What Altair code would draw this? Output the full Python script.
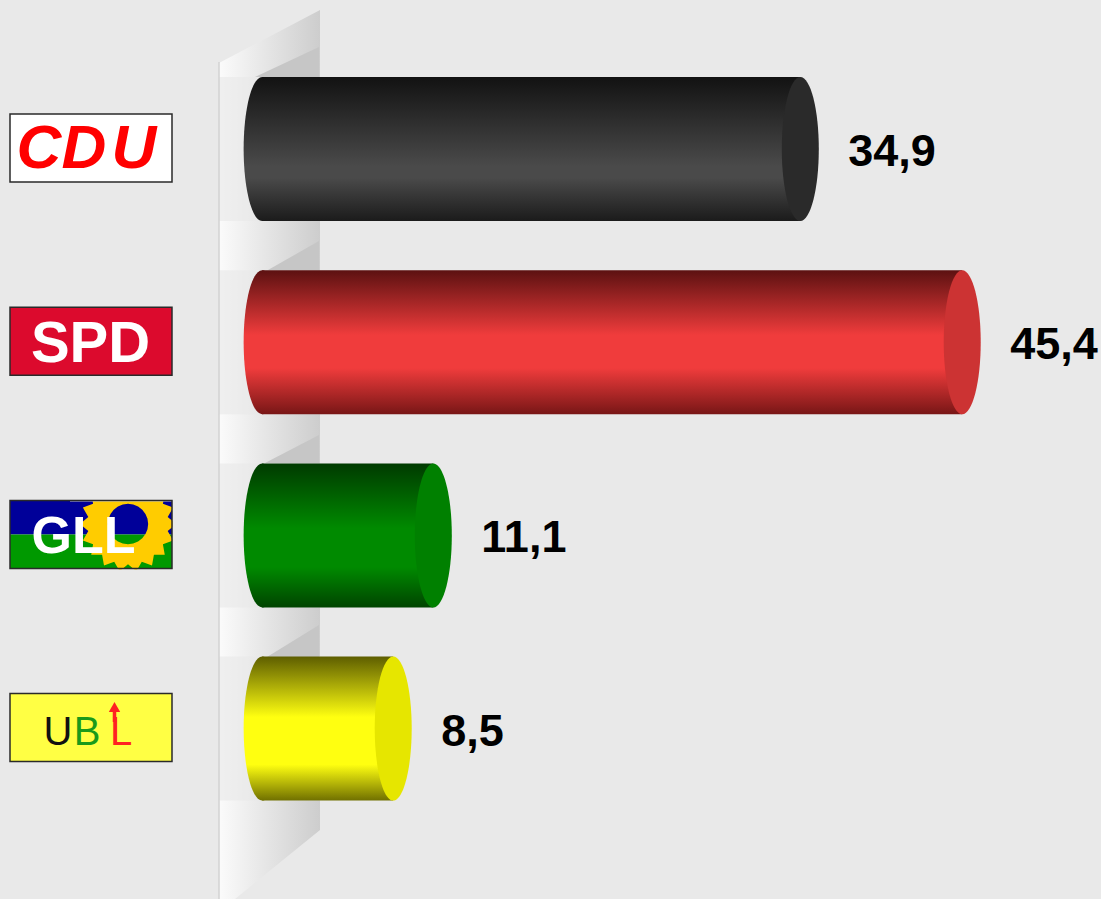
import math
import altair as alt
import pandas as pd

# ---------------- data ----------------
parties = ["CDU", "SPD", "GLL", "UBL"]
values = [34.9, 45.4, 11.1, 8.5]
shade_top = ["#121212", "#5c1111", "#003a00", "#5e5e00"]
shade_mid = ["#4a4a4a", "#f03c3c", "#008a00", "#ffff10"]
shade_bot = ["#1b1b1b", "#781616", "#004400", "#707000"]
cap_colors = ["#2a2a2a", "#cc3333", "#008000", "#e6e600"]
logo_fill = ["#ffffff", "#dc0a2d", "#000099", "#ffff44"]
labels = [f"{v:.1f}".replace(".", ",") for v in values]

BG = "#e9e9e9"
W, H = 1101, 899
X_MIN, X_MAX = -17.0, 54.4
PXU = W / (X_MAX - X_MIN)
ROW = 193.2
Y_MIN = -149.0 / ROW
Y_MAX = Y_MIN + H / ROW
HALF = 72.0 / ROW


def xv(px):
    return X_MIN + px / PXU


def yv(py):
    return Y_MIN + py / ROW


xs = alt.Scale(domain=[X_MIN, X_MAX], nice=False, zero=False)
ys = alt.Scale(domain=[Y_MIN, Y_MAX], nice=False, zero=False, reverse=True)


def X(f):
    return alt.X(f, type="quantitative", scale=xs, axis=None)


def Y(f):
    return alt.Y(f, type="quantitative", scale=ys, axis=None)


def vgrad(t, m, b, s0, s1):
    return alt.LinearGradient(
        gradient="linear",
        stops=[alt.GradientStop(color=t, offset=0),
               alt.GradientStop(color=m, offset=s0),
               alt.GradientStop(color=m, offset=s1),
               alt.GradientStop(color=b, offset=1)],
        x1=0, x2=0, y1=0, y2=1)


plateau = [(0.62, 0.70), (0.45, 0.68), (0.45, 0.72), (0.42, 0.75)]

# ellipse symbol (unit half-height 1)
a, k = 0.257, 0.5523
ka = k * a
ELL = (f"M 0 -1 C {ka:.4f} -1 {a} {-k} {a} 0 C {a} {k} {ka:.4f} 1 0 1 "
       f"C {-ka:.4f} 1 {-a} {k} {-a} 0 C {-a} {-k} {-ka:.4f} -1 0 -1 Z")
ELL_SIZE = (2 * 72) ** 2

layers = []
one = pd.DataFrame({"a": [0]})

# ---------------- wall ----------------
wall_df = pd.DataFrame({"x": [xv(219), xv(320)],
                        "top": [yv(63), yv(10)],
                        "bot": [yv(912), yv(830)]})
hgrad = alt.LinearGradient(
    gradient="linear",
    stops=[alt.GradientStop(color="#fbfbfb", offset=0),
           alt.GradientStop(color="#cdcdcd", offset=1)],
    x1=0, x2=1, y1=0, y2=0)
layers.append(alt.Chart(wall_df).mark_area(fill=hgrad, orient="vertical").encode(
    x=X("x"), y=Y("top"), y2="bot"))

rows_df = pd.DataFrame({"party": parties,
                        "y1": [i - HALF for i in range(len(parties))],
                        "y2": [i + HALF for i in range(len(parties))]})
layers.append(alt.Chart(rows_df).mark_rect(fill=BG, opacity=0.62, strokeWidth=0).encode(
    x=alt.value(218), x2=alt.value(322), y=Y("y1"), y2="y2"))

gaps = [(77, 255, 47), (270, 268, 241), (463, 265, 435), (657, 267, 625)]
tri = []
for gi, (gb, xl, yt) in enumerate(gaps):
    tri.append({"g": gi, "x": xv(xl), "y": yv(gb), "y2": yv(gb)})
    tri.append({"g": gi, "x": xv(319), "y": yv(yt), "y2": yv(gb)})
layers.append(alt.Chart(pd.DataFrame(tri)).mark_area(fill="#c6c6c6", orient="vertical").encode(
    x=X("x"), y=Y("y"), y2="y2", detail="g:N"))

layers.append(alt.Chart(one).mark_rule(color="#d2d2d2", strokeWidth=1.5).encode(
    x=alt.value(219), y=alt.value(62), y2=alt.value(899)))

# ---------------- bars ----------------
for i, (p, v) in enumerate(zip(parties, values)):
    df_i = pd.DataFrame({"party": [p], "value": [v], "zero": [0.0], "pos": [i],
                         "y1": [i - HALF], "y2": [i + HALF]})
    g = vgrad(shade_top[i], shade_mid[i], shade_bot[i], *plateau[i])
    layers.append(alt.Chart(df_i).mark_point(shape=ELL, size=ELL_SIZE, filled=True, fill=g,
                                             opacity=1, strokeWidth=0).encode(
        x=X("zero"), y=Y("pos")))
    layers.append(alt.Chart(df_i).mark_rect(fill=g, strokeWidth=0).encode(
        x=X("zero"), x2="value", y=Y("y1"), y2="y2"))
    layers.append(alt.Chart(df_i).mark_point(shape=ELL, size=ELL_SIZE, filled=True,
                                             fill=cap_colors[i], opacity=1, strokeWidth=0).encode(
        x=X("value"), y=Y("pos")))

lab_df = pd.DataFrame({"party": parties, "value": values, "label": labels,
                       "pos": list(range(len(parties)))})
layers.append(alt.Chart(lab_df).mark_text(align="left", baseline="middle", dx=48, dy=3,
                                          fontSize=45, fontWeight="bold",
                                          font="Liberation Sans", color="#000000").encode(
    x=X("value"), y=Y("pos"), text="label:N"))

# ---------------- logos ----------------
LH = 34.0 / ROW
logo_df = pd.DataFrame({"party": parties, "fill": logo_fill,
                        "pos": list(range(len(parties)))})
logo_df["c"] = logo_df["pos"] - 1.0 / ROW
logo_df["t"] = logo_df["c"] - LH
logo_df["b"] = logo_df["c"] + LH
logo_df["m"] = logo_df["c"]

simple = logo_df[logo_df["party"] != "GLL"]
layers.append(alt.Chart(simple).mark_rect(strokeWidth=0).encode(
    x=alt.value(10), x2=alt.value(172), y=Y("t"), y2="b",
    fill=alt.Fill("fill:N", scale=None)))

gll = logo_df[logo_df["party"] == "GLL"]
layers.append(alt.Chart(gll).mark_rect(fill="#000099", strokeWidth=0).encode(
    x=alt.value(10), x2=alt.value(172), y=Y("t"), y2="m"))
layers.append(alt.Chart(gll).mark_rect(fill="#009900", strokeWidth=0).encode(
    x=alt.value(10), x2=alt.value(172), y=Y("m"), y2="b"))

# sunflower ring (decoration)
pts = []
n = 18
for j in range(2 * n):
    ang = math.pi * j / n
    r = 1.0 if j % 2 == 0 else 0.84
    pts.append((r * math.cos(ang), r * math.sin(ang)))
ring = "M " + " L ".join(f"{x:.3f} {y:.3f}" for x, y in pts) + " Z "
inner = []
for j in range(24):
    ang = -2 * math.pi * j / 24
    inner.append((0.42 * math.cos(ang), 0.42 * math.sin(ang)))
ring += "M " + " L ".join(f"{x:.3f} {y:.3f}" for x, y in inner) + " Z"
layers.append(alt.Chart(one).mark_point(shape=ring, size=(2 * 48) ** 2, filled=True,
                                        fill="#ffcc00", opacity=1, strokeWidth=0).encode(
    x=alt.value(128), y=alt.value(524)))

# letters
def letter(df, txt, px, color, size, dy, weight="bold", style="normal"):
    return alt.Chart(df).mark_text(text=txt, align="center", baseline="middle",
                                   fontSize=size, fontWeight=weight, fontStyle=style,
                                   font="Liberation Sans", color=color, dy=dy).encode(
        x=alt.value(px), y=Y("c"))

cdu = logo_df[logo_df["party"] == "CDU"]
spd = logo_df[logo_df["party"] == "SPD"]
ubl = logo_df[logo_df["party"] == "UBL"]
for ch, px in zip(parties[0], [39, 84, 134]):
    layers.append(letter(cdu, ch, px, "#ff0000", 62, 1, style="italic"))
layers.append(letter(spd, parties[1], 90.5, "#ffffff", 58, 3.5))
layers.append(letter(gll, parties[2], 83.5, "#ffffff", 52, 3))
for ch, px, col in zip(parties[3], [58, 87, 121], ["#111111", "#1a9a1a", "#ff2222"]):
    layers.append(letter(ubl, ch, px, col, 40, 5.5, weight="normal"))
layers.append(alt.Chart(one).mark_rule(color="#ff2222", strokeWidth=3.5).encode(
    x=alt.value(114.5), y=alt.value(710), y2=alt.value(722)))
layers.append(alt.Chart(one).mark_point(shape="triangle-up", size=130, filled=True,
                                        fill="#ff2222", opacity=1, strokeWidth=0).encode(
    x=alt.value(114.5), y=alt.value(707)))

# masks around GLL logo (clip sunflower)
layers.append(alt.Chart(one).mark_rect(fill=BG, strokeWidth=0).encode(
    x=alt.value(70), x2=alt.value(195), y=alt.value(460), y2=alt.value(501.5)))
layers.append(alt.Chart(one).mark_rect(fill=BG, strokeWidth=0).encode(
    x=alt.value(172.5), x2=alt.value(195), y=alt.value(460), y2=alt.value(590)))
layers.append(alt.Chart(one).mark_rect(fill=BG, strokeWidth=0).encode(
    x=alt.value(70), x2=alt.value(195), y=alt.value(569.5), y2=alt.value(590)))

# borders
layers.append(alt.Chart(logo_df).mark_rect(fillOpacity=0, stroke="#2a2a2a", strokeWidth=1.5).encode(
    x=alt.value(10), x2=alt.value(172), y=Y("t"), y2="b"))

chart = alt.layer(*layers).properties(
    width=W, height=H, padding=0, autosize=alt.AutoSizeParams(type="none")
).configure(background=BG).configure_view(stroke=None)

chart.save("out.html", embed_options={"renderer": "svg", "actions": False})
